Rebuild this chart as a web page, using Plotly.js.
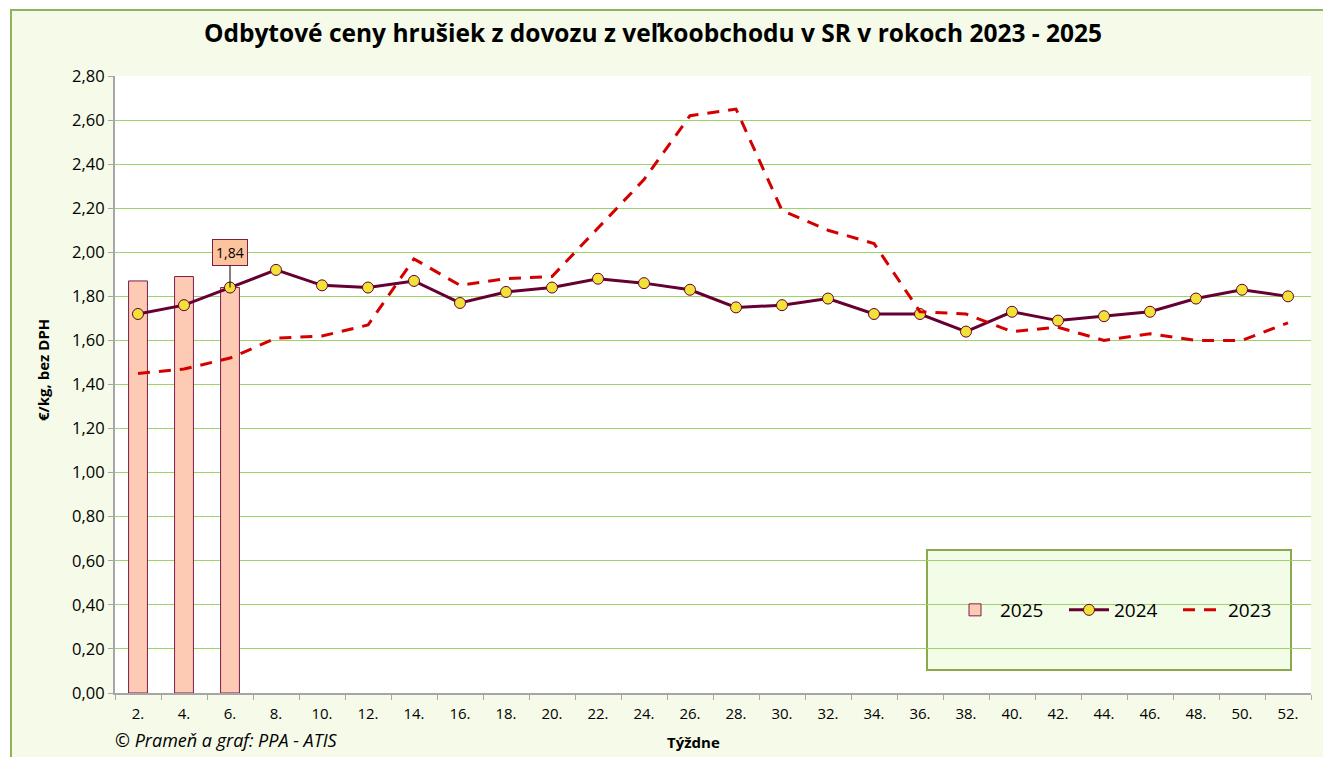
<!DOCTYPE html>
<html>
<head>
<meta charset="utf-8">
<script src="https://cdn.plot.ly/plotly-3.0.1.min.js"></script>
<style>
html,body{margin:0;padding:0;background:#ffffff;overflow:hidden;}
#frame{position:absolute;left:10px;top:9px;width:1340px;height:780px;background:#f5fbe8;border:2px solid #8fb35a;}
#chart{position:absolute;left:0;top:0;width:1323px;height:757px;}
</style>
</head>
<body>
<div id="frame"></div>
<div id="chart"></div>
<script>
const weeks = ["2.","4.","6.","8.","10.","12.","14.","16.","18.","20.","22.","24.","26.","28.","30.","32.","34.","36.","38.","40.","42.","44.","46.","48.","50.","52."];
const weeks2025 = ["2.","4.","6."];
const values2025 = [1.87, 1.89, 1.84];
const values2024 = [1.72,1.76,1.84,1.92,1.85,1.84,1.87,1.77,1.82,1.84,1.88,1.86,1.83,1.75,1.76,1.79,1.72,1.72,1.64,1.73,1.69,1.71,1.73,1.79,1.83,1.80];
const values2023 = [1.45,1.47,1.52,1.61,1.62,1.67,1.97,1.85,1.88,1.89,2.11,2.33,2.62,2.65,2.19,2.10,2.04,1.73,1.72,1.64,1.66,1.60,1.63,1.60,1.60,1.68];
const yTicks = [0,0.2,0.4,0.6,0.8,1.0,1.2,1.4,1.6,1.8,2.0,2.2,2.4,2.6,2.8];

const FONT = "'Open Sans', sans-serif";

const traces = [
  {
    type: "bar", name: "2025", x: weeks2025, y: values2025,
    marker: {color: "#fdcbb4", line: {color: "#7b1e4a", width: 1}},
    hoverinfo: "y"
  },
  {
    type: "scatter", mode: "lines+markers", name: "2024", x: weeks, y: values2024,
    line: {color: "#660033", width: 3},
    marker: {color: "#f0e236", size: 11, line: {color: "#660033", width: 1}}
  },
  {
    type: "scatter", mode: "lines", name: "2023", x: weeks, y: values2023,
    line: {color: "#d40000", width: 3, dash: "12px,9px"}
  }
];

// pixel helpers for the plot area
const L = 115, R = 12, T = 76, B = 64, W = 1323, H = 757;
const pw = W - L - R, ph = H - T - B;
const px = v => (v - L) / pw;
const py = v => (H - B - v) / ph;

const layout = {
  width: W, height: H,
  margin: {l: L, r: R, t: T, b: B, pad: 0},
  paper_bgcolor: "rgba(0,0,0,0)",
  plot_bgcolor: "#ffffff",
  separators: ", ",
  font: {family: FONT, size: 16, color: "#000000"},
  title: {
    text: "<b>Odbytové ceny hrušiek z dovozu z veľkoobchodu v SR v rokoch 2023 - 2025</b>",
    font: {family: FONT, size: 24.5, color: "#000000"},
    x: px(653), xref: "paper", xanchor: "center",
    y: 1 - 33 / H, yref: "container", yanchor: "middle"
  },
  bargap: 0.59,
  showlegend: true,
  legend: {
    orientation: "h",
    x: px(950), y: py(610), xanchor: "left", yanchor: "middle",
    bgcolor: "rgba(0,0,0,0)",
    font: {family: FONT, size: 19, color: "#000000"},
    itemwidth: 40, entrywidth: 59, traceorder: "normal"
  },
  xaxis: {
    type: "category",
    categoryorder: "array", categoryarray: weeks,
    range: [-0.5, weeks.length - 0.5],
    tickson: "boundaries",
    ticks: "outside", ticklen: 5, tickcolor: "#a6a6a6",
    ticklabelstandoff: 6,
    showline: true, linecolor: "#a6a6a6", linewidth: 2,
    showgrid: false, zeroline: false,
    tickfont: {family: FONT, size: 15, color: "#000000"}
  },
  yaxis: {
    range: [0, 2.8],
    tickvals: yTicks,
    tickformat: ".2f",
    ticks: "outside", ticklen: 5, tickcolor: "#a6a6a6",
    showline: true, linecolor: "#a6a6a6", linewidth: 2,
    showgrid: true, gridcolor: "#9dd36a", gridwidth: 1,
    zeroline: false,
    tickfont: {family: FONT, size: 16.5, color: "#000000"}
  },
  shapes: [
    {
      type: "rect", xref: "paper", yref: "paper",
      x0: px(927), x1: px(1291), y0: py(670), y1: py(550),
      fillcolor: "#f3fce6", line: {color: "#8aa84e", width: 2},
      layer: "below"
    }
  ],
  annotations: [
    {
      x: weeks.indexOf("6."), y: values2025[2], xref: "x", yref: "y",
      text: "1,84", showarrow: true, arrowhead: 0, arrowwidth: 1, arrowcolor: "#000000",
      ax: 0, ay: -35,
      bgcolor: "#fcc39d", bordercolor: "#7b1e4a", borderwidth: 1, borderpad: 3,
      font: {family: FONT, size: 14, color: "#000000"}
    },
    {
      xref: "paper", yref: "paper", x: px(693), y: py(742),
      text: "<b>Týždne</b>", showarrow: false, xanchor: "center", yanchor: "middle",
      font: {family: FONT, size: 15, color: "#000000"}
    },
    {
      xref: "paper", yref: "paper", x: px(43), y: py(370),
      text: "<b>€/kg, bez DPH</b>", showarrow: false, textangle: -90,
      xanchor: "center", yanchor: "middle",
      font: {family: FONT, size: 15, color: "#000000"}
    },
    {
      xref: "paper", yref: "paper", x: px(113), y: py(740),
      text: "<i>© Prameň a graf: PPA - ATIS</i>", showarrow: false, xanchor: "left", yanchor: "middle",
      font: {family: FONT, size: 18, color: "#000000"}
    }
  ]
};

Plotly.newPlot("chart", traces, layout, {displayModeBar: false, staticPlot: true});
</script>
</body>
</html>
